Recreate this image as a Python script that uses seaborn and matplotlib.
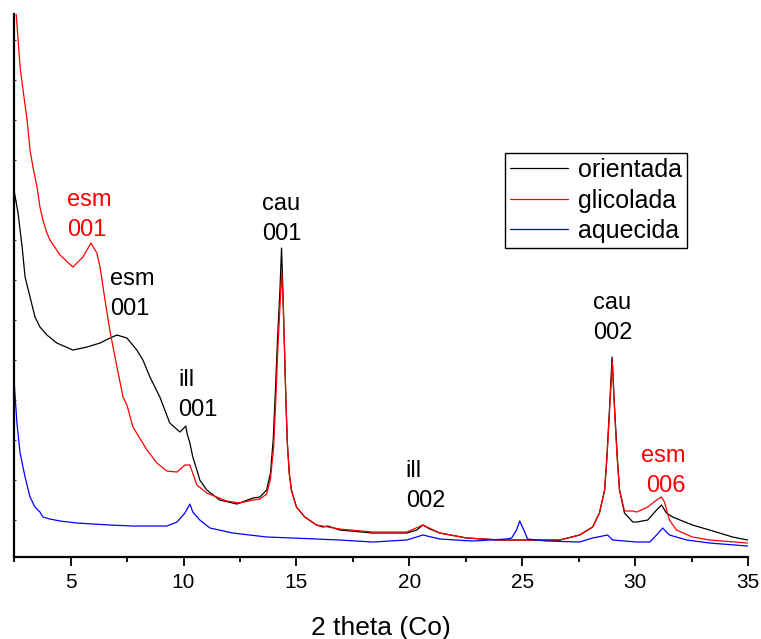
import numpy as np
import pandas as pd
import matplotlib
matplotlib.use("Agg")
import matplotlib.pyplot as plt
import seaborn as sns
from matplotlib.ticker import MultipleLocator

# =========================================
# DATA (arbitrary intensity)
# =========================================
theta_orientada = [2.49, 2.67, 2.85, 2.98, 3.20, 3.42, 3.64, 3.95, 4.39, 5.10, 5.72, 6.30, 6.74,
                   7.05, 7.49, 7.93, 8.20, 8.51, 8.95, 9.39, 9.84, 10.10, 10.15, 10.28, 10.41,
                   10.59, 10.72, 11.03, 11.60, 12.36, 13.07, 13.38, 13.68, 13.85, 13.97, 14.07,
                   14.16, 14.27, 14.34, 14.40, 14.46, 14.52, 14.59, 14.68, 14.78, 15.00, 15.37,
                   15.89, 16.17, 16.39, 16.92, 18.38, 19.89, 20.33, 20.60, 20.91, 21.35, 22.54,
                   24.00, 26.08, 26.66, 27.54, 28.12, 28.42, 28.65, 28.75, 28.87, 28.98, 29.09,
                   29.21, 29.31, 29.53, 29.90, 30.07, 30.56, 30.95, 31.17, 31.39, 31.66, 32.54,
                   33.30, 34.32, 34.98]
int_orientada = [367, 344, 310, 280, 260, 240, 230, 222, 214, 207, 210, 214, 219,
                 222, 219, 207, 197, 180, 160, 134, 125, 131, 124, 114, 100,
                 87, 77, 67, 57, 53, 59, 60, 67, 84, 117, 167,
                 217, 267, 309, 267, 217, 167, 117, 84, 67, 50, 40,
                 32, 30, 31, 27, 24, 24, 27, 32, 28, 24, 19,
                 17, 17, 17, 22, 30, 44, 67, 100, 150, 200, 150,
                 100, 67, 44, 35, 35, 37, 47, 52, 44, 40, 32,
                 27, 20, 17]

theta_glicolada = [2.49, 2.58, 2.76, 2.89, 3.07, 3.20, 3.33, 3.51, 3.64, 3.77, 3.95, 4.08,
                   4.53, 5.10, 5.54, 5.90, 6.16, 6.30, 6.52, 6.74, 7.05, 7.32, 7.49, 7.76,
                   8.38, 8.82, 9.26, 9.71, 10.06, 10.28, 10.59, 11.03, 11.91, 12.49, 13.07,
                   13.38, 13.68, 13.85, 13.99, 14.09, 14.18, 14.28, 14.35, 14.41, 14.47, 14.53,
                   14.60, 14.69, 14.78, 15.00, 15.37, 15.89, 16.92, 18.38, 19.89, 20.60, 21.35,
                   22.54, 24.00, 26.08, 26.66, 27.54, 28.12, 28.42, 28.65, 28.75, 28.87, 28.99,
                   29.09, 29.21, 29.31, 29.53, 29.90, 30.07, 30.56, 30.95, 31.17, 31.30, 31.52,
                   31.83, 32.54, 33.30, 34.98]
int_glicolada = [550, 545, 490, 467, 437, 407, 390, 370, 350, 337, 324, 317,
                 302, 290, 300, 314, 304, 290, 257, 226, 190, 160, 152, 130,
                 107, 94, 86, 85, 92, 92, 72, 64, 56, 54, 57,
                 58, 63, 78, 110, 160, 210, 255, 284, 255, 210, 160,
                 112, 82, 66, 50, 40, 32, 28, 25, 25, 32, 24,
                 19, 17, 17, 17, 22, 30, 44, 67, 98, 146, 195,
                 146, 98, 67, 46, 46, 45, 50, 57, 60, 55, 37,
                 27, 20, 17, 14]

theta_aquecida = [2.49, 2.62, 2.76, 2.98, 3.20, 3.42, 3.64, 3.77, 4.08, 4.53, 5.28, 5.99,
                  6.74, 7.76, 9.26, 9.71, 10.06, 10.28, 10.41, 10.72, 11.17, 12.18, 13.69,
                  14.84, 16.92, 18.38, 19.89, 20.60, 21.35, 22.80, 24.31, 24.53, 24.75, 24.89,
                  25.07, 25.24, 26.08, 27.54, 28.12, 28.78, 29.01, 30.07, 30.65, 30.95, 31.22,
                  31.52, 32.29, 33.30, 34.98]
int_aquecida = [177, 134, 104, 80, 60, 50, 45, 40, 38, 36, 34, 33,
                32, 31, 31, 35, 44, 53, 45, 37, 29, 24, 20,
                19, 17, 15, 17, 22, 18, 16, 18, 19, 27, 36,
                27, 18, 16, 15, 19, 22, 17, 15, 15, 22, 29,
                22, 17, 14, 11]

samples = ["orientada", "glicolada", "aquecida"]
colors = ["black", "red", "blue"]

# peak labels
peak_text = ["esm\n001", "esm\n001", "ill\n001", "cau\n001", "ill\n002", "cau\n002", "esm\n006"]
peak_x = [4.84, 6.74, 9.76, 13.47, 19.84, 28.12, 32.24]
peak_y = [342, 263, 162, 338, 71, 239, 86]
peak_color = ["red", "black", "black", "black", "black", "black", "red"]
peak_ha = ["left", "left", "left", "left", "left", "left", "right"]

# =========================================
# LONG-FORM TABLE
# =========================================
df = pd.concat([
    pd.DataFrame({"theta": theta_orientada, "I": int_orientada, "amostra": "orientada"}),
    pd.DataFrame({"theta": theta_glicolada, "I": int_glicolada, "amostra": "glicolada"}),
    pd.DataFrame({"theta": theta_aquecida, "I": int_aquecida, "amostra": "aquecida"}),
], ignore_index=True)

# =========================================
# PLOT
# =========================================
sns.set_style("white")
plt.rcParams["font.family"] = ["Liberation Sans", "DejaVu Sans"]
plt.rcParams["text.color"] = "black"
plt.rcParams["axes.labelcolor"] = "black"
plt.rcParams["xtick.color"] = "black"
plt.rcParams["ytick.color"] = "black"

fig = plt.figure(figsize=(7.61, 6.39), dpi=100)
ax = fig.add_axes([0.0184, 0.1283, 0.9645, 0.8497])

sns.lineplot(data=df, x="theta", y="I", hue="amostra", hue_order=samples,
             palette=dict(zip(samples, colors)), estimator=None, sort=False,
             linewidth=0.9, ax=ax)

ax.set_xlim(2.49, 35)
ax.set_ylim(0, 543)

for s in ["top", "right"]:
    ax.spines[s].set_visible(False)
for s in ["left", "bottom"]:
    ax.spines[s].set_color("black")
    ax.spines[s].set_linewidth(1.6)

ax.xaxis.set_major_locator(MultipleLocator(5))
ax.xaxis.set_minor_locator(MultipleLocator(2.5))
ax.tick_params(axis="x", which="major", direction="out", length=6.5, width=1.3,
               labelsize=15, labelcolor="black", pad=5, bottom=True)
ax.tick_params(axis="x", which="minor", direction="out", length=3.5, width=1.3, bottom=True)
ax.set_yticks(np.arange(37, 543, 40))
ax.tick_params(axis="y", which="major", direction="in", length=1.5, width=0.6,
               labelleft=False, left=True)

ax.set_xlabel("2 theta (Co)", fontsize=19, labelpad=17, color="black")
ax.set_ylabel("")

for txt, x, y, c, ha in zip(peak_text, peak_x, peak_y, peak_color, peak_ha):
    ax.text(x, y, txt, color=c, fontsize=17, ha=ha, va="center",
            multialignment=ha, linespacing=1.45)

leg = ax.legend(loc="upper left", bbox_to_anchor=(0.669, 0.744), fontsize=18,
                frameon=True, fancybox=False, edgecolor="black", framealpha=1,
                borderpad=0.2, borderaxespad=0, handlelength=2.3,
                handletextpad=0.4, labelspacing=0.26, title=None)
leg.get_frame().set_linewidth(1.0)
for t in leg.get_texts():
    t.set_color("black")

fig.savefig("out.png", dpi=100)
